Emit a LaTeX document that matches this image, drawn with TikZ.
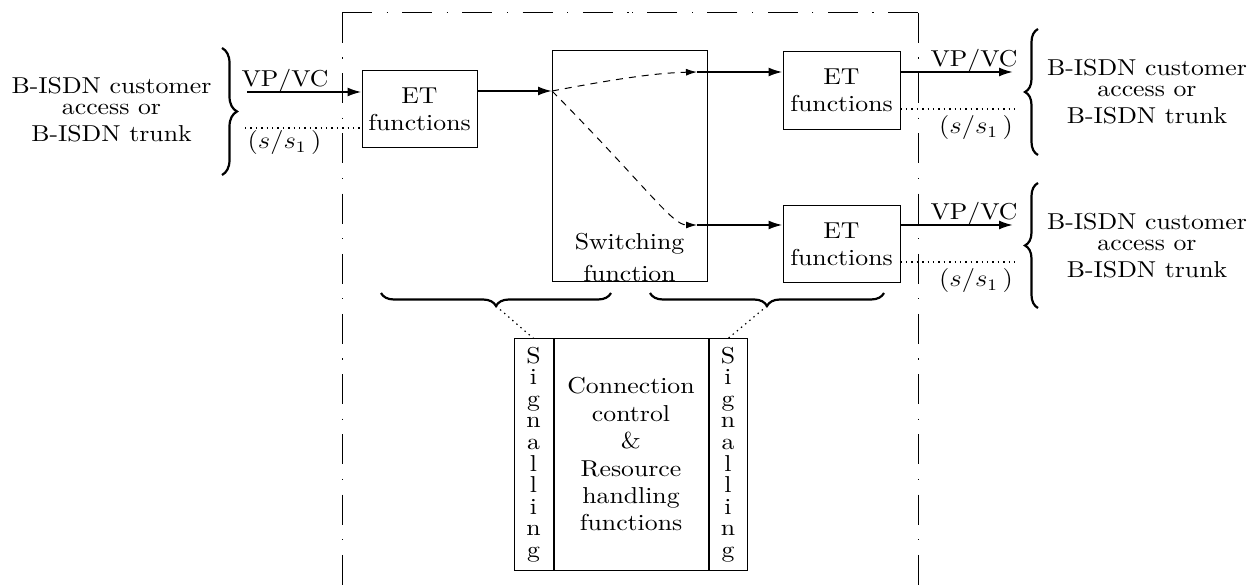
\documentclass[tikz,border=0pt]{standalone}
\usepackage{fontspec}
\usepackage{graphicx}
\setmainfont{lmroman10-regular}[Extension=.otf, FakeStretch=1.12]
\usetikzlibrary{arrows.meta, decorations.pathreplacing}

\newcommand\sigword{S\\i\\g\\n\\a\\l\\l\\i\\n\\g}
\newcommand\custtext{B-ISDN customer\\[-3pt]access or\\B-ISDN trunk}
\newcommand\sigref{\scalebox{1.12}[1]{$(s/s_1\,)$}}

\begin{document}
\begin{tikzpicture}[x=0.5pt, y=-0.5pt,
  font=\fontsize{11.5pt}{13.5pt}\selectfont,
  box/.style={draw, line width=0.5pt, inner sep=0pt, align=center},
  flow/.style={line width=1pt, -{Latex[length=7pt,width=4.5pt]}},
  branch/.style={line width=0.5pt, dash pattern=on 3.5pt off 3pt,
                 -{Latex[length=5.5pt,width=3.5pt]}},
  sigline/.style={line width=0.6pt, dash pattern=on 0.7pt off 2pt},
  bigbrace/.style={decorate, decoration={brace, amplitude=#1}, line width=1.1pt},
  frameline/.style={line width=0.5pt, dash pattern=on 15pt off 7.25pt on 0.6pt off 7.25pt},
  lbl/.style={anchor=base, inner sep=0pt},
]
\useasboundingbox (0,0) rectangle (1254,588);

% exchange boundary (dash-dot)
\coordinate (fTL) at (342,13);
\coordinate (fTR) at (918,13);
\coordinate (fBL) at (342,590);
\coordinate (fBR) at (918,590);
\coordinate (fTM) at (630,13);
\draw[frameline] (fTL) -- (fBL);
\draw[frameline] (fTR) -- (fBR);
\draw[frameline] (fTL) -- (fTM);
\draw[frameline] (fTR) -- (fTM);

% functional blocks
\node[box, minimum width=57.5pt, minimum height=38.5pt] (et1) at (419.5,109.5) {ET\\functions};
\node[box, minimum width=77.5pt, minimum height=115.5pt] (sw) at (629.5,166.5) {};
\node[inner sep=0pt, align=center, anchor=south] (swtext) at (sw.south) {Switching\\[2.5pt]function};
\node[box, minimum width=58.5pt, minimum height=38.75pt] (et2) at (841.5,90.5) {ET\\functions};
\node[box, minimum width=58.5pt, minimum height=38.75pt] (et3) at (841.5,244) {ET\\functions};

% control block
\node[box, minimum width=77pt, minimum height=115.5pt,
      font=\fontsize{11.5pt}{13.7pt}\selectfont] (core) at (631,454.5)
      {Connection\\control\\\&\\Resource\\handling\\functions};
\node[box, minimum width=19.5pt, minimum height=115.5pt, anchor=east,
      font=\fontsize{11.5pt}{10.8pt}\selectfont] (sigL) at (core.west) {\sigword};
\node[box, minimum width=19pt, minimum height=115.5pt, anchor=west,
      font=\fontsize{11.5pt}{10.8pt}\selectfont] (sigR) at (core.east) {\sigword};
\draw[line width=1pt] (core.north west) -- (core.south west);
\draw[line width=1pt] (core.north east) -- (core.south east);

% access / trunk descriptions
\node[align=center, inner sep=0pt] (custL) at (111.5,110) {\custtext};
\node[align=center, inner sep=0pt] (custR1) at (1147,91.7) {\custtext};
\node[align=center, inner sep=0pt] (custR2) at (1147,245.7) {\custtext};

% side braces
\coordinate (bL1) at (222,48);   \coordinate (bL2) at (222,175);
\coordinate (bR1) at (1038,155); \coordinate (bR2) at (1038,29);
\coordinate (bR3) at (1038,308); \coordinate (bR4) at (1038,183);
\draw[bigbrace=7.5pt] (bL1) -- (bL2);
\draw[bigbrace=6.5pt] (bR1) -- (bR2);
\draw[bigbrace=6.5pt] (bR3) -- (bR4);

% braces grouping the signalling functions
\coordinate (bB1) at (611,293); \coordinate (bB2) at (381,293);
\coordinate (bB3) at (884,293); \coordinate (bB4) at (650,293);
\draw[bigbrace=6.5pt] (bB1) -- (bB2);
\draw[bigbrace=6.5pt] (bB3) -- (bB4);
\coordinate (tipL) at (496,306);
\coordinate (tipR) at (767,306);
\draw[sigline] (tipL) -- (sigL.north);
\draw[sigline] (tipR) -- (sigR.north);

% input side
\coordinate (inL) at (247,92);
\coordinate (dotL) at (245,128);
\draw[flow] (inL) -- (inL -| et1.west);
\draw[sigline] (dotL) -- (dotL -| et1.west);
\node[lbl] (vpL) at (285,87) {VP/VC};
\node[lbl] (sL) at (284.5,149) {\sigref};

% through the switching function
\coordinate (swin) at (552,91);
\coordinate (br1) at (697,72);
\coordinate (br2) at (697,225);
\draw[flow] (swin -| et1.east) -- (swin);
\draw[branch] (swin) .. controls (600,82) and (650,73) .. (br1);
\draw[branch] (swin) .. controls (645,185) and (672,225) .. (br2);
\draw[flow] (br1) -- (br1 -| et2.west);
\draw[flow] (br2) -- (br2 -| et3.west);

% output side
\coordinate (out1) at (1013,72);
\coordinate (dot1) at (1015,109);
\coordinate (out2) at (1013,225);
\coordinate (dot2) at (1015,262);
\draw[flow] (out1 -| et2.east) -- (out1);
\draw[sigline] (dot1 -| et2.east) -- (dot1);
\draw[flow] (out2 -| et3.east) -- (out2);
\draw[sigline] (dot2 -| et3.east) -- (dot2);
\node[lbl] (vpR1) at (974,67) {VP/VC};
\node[lbl] (sR1) at (976,134) {\sigref};
\node[lbl] (vpR2) at (974,220) {VP/VC};
\node[lbl] (sR2) at (976,287) {\sigref};
\end{tikzpicture}
\end{document}
